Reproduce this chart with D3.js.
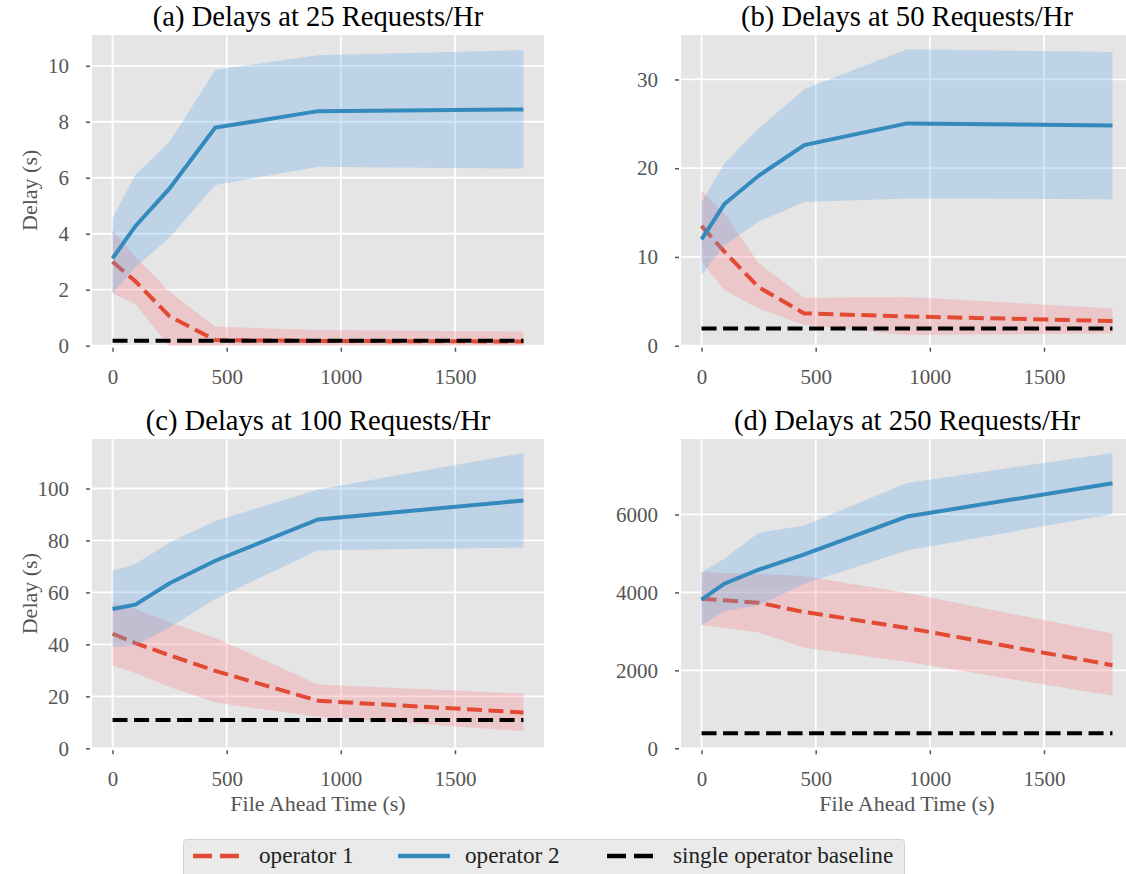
<!DOCTYPE html>
<html><head><meta charset="utf-8">
<script src="https://cdn.jsdelivr.net/npm/d3@7"></script>
<style>body{margin:0;background:#fff}</style>
</head><body>
<svg id="c" width="1126" height="874" xmlns="http://www.w3.org/2000/svg"></svg>
<script>
// ---------- data ----------
const fileAhead = [0, 100, 250, 450, 900, 1800];
const panelTitles = ["(a) Delays at 25 Requests/Hr", "(b) Delays at 50 Requests/Hr",
                     "(c) Delays at 100 Requests/Hr", "(d) Delays at 250 Requests/Hr"];
const xTicks = [0, 500, 1000, 1500];
const yTicks25 = [0, 2, 4, 6, 8, 10];
const yTicks50 = [0, 10, 20, 30];
const yTicks100 = [0, 20, 40, 60, 80, 100];
const yTicks250 = [0, 2000, 4000, 6000];
const seriesNames = ["operator 1", "operator 2", "single operator baseline"];

const op1Mean25 = [3.0, 2.3, 1.05, 0.2, 0.17, 0.15];
const op1Lo25   = [1.87, 1.49, -0.05, -0.24, -0.2, -0.18];
const op1Hi25   = [4.13, 3.18, 1.93, 0.68, 0.56, 0.5];
const op2Mean25 = [3.12, 4.27, 5.62, 7.79, 8.38, 8.44];
const op2Lo25   = [1.87, 2.8, 3.87, 5.74, 6.39, 6.33];
const op2Hi25   = [4.55, 6.1, 7.29, 9.85, 10.38, 10.56];
const base25 = 0.18;

const op1Mean50 = [13.5, 10.6, 6.6, 3.64, 3.3, 2.78];
const op1Lo50   = [9.46, 6.27, 4.2, 2.33, 1.2, 1.39];
const op1Hi50   = [17.5, 14.9, 9.3, 5.4, 5.5, 4.2];
const op2Mean50 = [11.98, 15.96, 19.15, 22.6, 25.05, 24.82];
const op2Lo50   = [7.96, 11.3, 13.97, 16.2, 16.6, 16.5];
const op2Hi50   = [16.2, 20.5, 24.5, 28.9, 33.4, 33.1];
const base50 = 1.95;

const op1Mean100 = [44.1, 40.5, 35.8, 29.8, 18.3, 13.8];
const op1Lo100   = [31.9, 29.0, 23.6, 17.6, 12.1, 6.6];
const op1Hi100   = [56.2, 53.6, 48.5, 42.5, 24.6, 21.1];
const op2Mean100 = [53.6, 55.3, 63.5, 72.2, 88.1, 95.4];
const op2Lo100   = [39.0, 39.6, 46.6, 57.5, 76.2, 77.3];
const op2Hi100   = [68.3, 70.9, 79.2, 87.5, 99.6, 113.7];
const base100 = 10.9;

const op1Mean250 = [3840, 3797, 3737, 3498, 3089, 2133];
const op1Lo250   = [3157, 3089, 2969, 2577, 2218, 1348];
const op1Hi250   = [4522, 4497, 4480, 4420, 3985, 2944];
const op2Mean250 = [3814, 4224, 4582, 4974, 5947, 6800];
const op2Lo250   = [3157, 3524, 3669, 4224, 5077, 6015];
const op2Hi250   = [4522, 4863, 5529, 5717, 6809, 7577];
const base250 = 384;

// ---------- layout / style ----------
const FONT = "'Liberation Serif','Times New Roman','DejaVu Serif',serif";
const RED = "#E24A33", BLUE = "#348ABD";
const RED_FILL = "rgb(250,130,140)", BLUE_FILL = "rgb(100,170,230)";
const panels = [
  {title: panelTitles[0], yTicks: yTicks25, m1: op1Mean25, l1: op1Lo25, h1: op1Hi25, m2: op2Mean25, l2: op2Lo25, h2: op2Hi25, base: base25,
   x0: 92, x1: 544, y0: 35, y1: 345.7, ylab: true, xlab: false},
  {title: panelTitles[1], yTicks: yTicks50, m1: op1Mean50, l1: op1Lo50, h1: op1Hi50, m2: op2Mean50, l2: op2Lo50, h2: op2Hi50, base: base50,
   x0: 681, x1: 1133, y0: 35, y1: 345.7, ylab: false, xlab: false},
  {title: panelTitles[2], yTicks: yTicks100, m1: op1Mean100, l1: op1Lo100, h1: op1Hi100, m2: op2Mean100, l2: op2Lo100, h2: op2Hi100, base: base100,
   x0: 92, x1: 544, y0: 439, y1: 748.3, ylab: true, xlab: true},
  {title: panelTitles[3], yTicks: yTicks250, m1: op1Mean250, l1: op1Lo250, h1: op1Hi250, m2: op2Mean250, l2: op2Lo250, h2: op2Hi250, base: base250,
   x0: 681, x1: 1133, y0: 439, y1: 748.3, ylab: false, xlab: true},
];

const svg = d3.select("#c");
const defs = svg.append("defs");

panels.forEach((p, i) => {
  const xmin = d3.min(fileAhead), xmax = d3.max(fileAhead);
  const xpad = (xmax - xmin) * 0.05;
  const x = d3.scaleLinear().domain([xmin - xpad, xmax + xpad]).range([p.x0, p.x1]);
  const all = [].concat(p.m1, p.l1, p.h1, p.m2, p.l2, p.h2, [p.base]);
  const dmin = d3.min(all), dmax = d3.max(all);
  const y = d3.scaleLinear().domain([0, dmax + 0.05 * (dmax - dmin)]).range([p.y1, p.y0]);

  const g = svg.append("g");
  defs.append("clipPath").attr("id", "clip" + i)
    .append("rect").attr("x", p.x0).attr("y", p.y0).attr("width", p.x1 - p.x0).attr("height", p.y1 - p.y0);

  g.append("rect").attr("x", p.x0).attr("y", p.y0).attr("width", p.x1 - p.x0).attr("height", p.y1 - p.y0)
    .attr("fill", "#E5E5E5");

  // grid
  const grid = g.append("g").attr("stroke", "#fff").attr("stroke-width", 1.8);
  grid.selectAll(".gx").data(xTicks).join("line")
    .attr("x1", d => x(d)).attr("x2", d => x(d)).attr("y1", p.y0).attr("y2", p.y1);
  grid.selectAll(".gy").data(p.yTicks).join("line")
    .attr("x1", p.x0).attr("x2", p.x1).attr("y1", d => y(d)).attr("y2", d => y(d));

  const plot = g.append("g").attr("clip-path", `url(#clip${i})`);
  const idx = d3.range(fileAhead.length);
  const area = (lo, hi) => d3.area().x(j => x(fileAhead[j])).y0(j => y(lo[j])).y1(j => y(hi[j]))(idx);
  const line = (m) => d3.line().x(j => x(fileAhead[j])).y(j => y(m[j]))(idx);

  plot.append("path").attr("d", area(p.l1, p.h1)).attr("fill", RED_FILL).attr("fill-opacity", 0.3);
  plot.append("path").attr("d", line(p.m1)).attr("fill", "none").attr("stroke", RED)
    .attr("stroke-width", 4).attr("stroke-dasharray", "15,6.5");
  plot.append("path").attr("d", area(p.l2, p.h2)).attr("fill", BLUE_FILL).attr("fill-opacity", 0.3);
  plot.append("path").attr("d", line(p.m2)).attr("fill", "none").attr("stroke", BLUE)
    .attr("stroke-width", 4);
  plot.append("line").attr("x1", x(xmin)).attr("x2", x(xmax)).attr("y1", y(p.base)).attr("y2", y(p.base))
    .attr("stroke", "#000").attr("stroke-width", 4).attr("stroke-dasharray", "15,6.5");

  // axes
  const ya = g.append("g").attr("transform", `translate(${p.x0 - 2},0)`)
    .call(d3.axisLeft(y).tickValues(p.yTicks).tickSize(4).tickPadding(17).tickFormat(d3.format("d")));
  const xa = g.append("g").attr("transform", `translate(0,${p.y1 + 2})`)
    .call(d3.axisBottom(x).tickValues(xTicks).tickSize(4).tickPadding(17).tickFormat(d3.format("d")));
  [ya, xa].forEach(a => {
    a.select(".domain").remove();
    a.attr("font-family", null).attr("font-size", null);
    a.selectAll("line").attr("stroke", "#555").attr("stroke-width", 1.5);
    a.selectAll("text").attr("fill", "#555").style("font-family", FONT).style("font-size", "21px");
  });

  // title
  g.append("text").attr("x", (p.x0 + p.x1) / 2).attr("y", p.y0 - 9)
    .attr("text-anchor", "middle").style("font-family", FONT).style("font-size", "28.6px")
    .attr("fill", "#000").text(p.title);

  if (p.ylab) {
    const cy = (p.y0 + p.y1) / 2;
    g.append("text").attr("transform", `translate(37,${cy}) rotate(-90)`)
      .attr("text-anchor", "middle").style("font-family", FONT).style("font-size", "22px")
      .attr("fill", "#555").text("Delay (s)");
  }
  if (p.xlab) {
    g.append("text").attr("x", (p.x0 + p.x1) / 2).attr("y", 811)
      .attr("text-anchor", "middle").style("font-family", FONT).style("font-size", "22px")
      .attr("fill", "#555").text("File Ahead Time (s)");
  }
});

// legend
const lg = svg.append("g");
lg.append("rect").attr("x", 183.5).attr("y", 839.5).attr("width", 721).attr("height", 50).attr("rx", 3)
  .attr("fill", "#EAEAEA").attr("stroke", "#D2D2D2").attr("stroke-width", 1);
const legendItems = [
  {name: seriesNames[0], color: RED, dash: "19,8", hx: 193, tx: 259},
  {name: seriesNames[1], color: BLUE, dash: null, hx: 398, tx: 465},
  {name: seriesNames[2], color: "#000", dash: "19,8", hx: 607, tx: 673},
];
legendItems.forEach(it => {
  const ln = lg.append("line").attr("x1", it.hx).attr("x2", it.hx + (it.dash ? 47 : 52)).attr("y1", 856).attr("y2", 856)
    .attr("stroke", it.color).attr("stroke-width", 4.5);
  if (it.dash) ln.attr("stroke-dasharray", it.dash);
  lg.append("text").attr("x", it.tx).attr("y", 863).style("font-family", FONT).style("font-size", "23.2px")
    .attr("fill", "#222").text(it.name);
});
</script>
</body></html>
